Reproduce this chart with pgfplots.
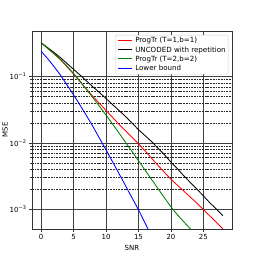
\documentclass[border=0pt]{standalone}
\usepackage{fontspec}
\setmainfont{DejaVu Sans}
\usepackage{pgfplots}
\pgfplotsset{compat=1.18}
\definecolor{mplgreen}{HTML}{008000}
\definecolor{legframe}{HTML}{CCCCCC}
\newcommand{\legline}[1]{\textcolor{#1}{\rule[2.3pt]{14pt}{0.85pt}}\hspace{3.5pt}}
\begin{document}
\fontsize{7}{8.5}\selectfont
\begin{tikzpicture}
\useasboundingbox (-32pt,-29pt) rectangle (226pt,229pt);
\begin{axis}[
  at={(0pt,0pt)}, anchor=south west,
  scale only axis, width=200pt, height=198pt,
  ymode=log,
  xmin=-1.4, xmax=29.4, ymin=5e-4, ymax=0.49,
  xtick={0,5,10,15,20,25},
  ytick={0.001,0.01,0.1},
  yticklabels={10\textsuperscript{−3},10\textsuperscript{−2},10\textsuperscript{−1}},
  /pgf/number format/assume math mode=true,
  tick label style={font=\fontsize{7}{8.5}\selectfont},
  label style={font=\fontsize{7}{8.5}\selectfont},
  xlabel={SNR}, ylabel={MSE},
  xlabel style={at={(axis description cs:0.5,-0.096)}, anchor=center},
  ylabel style={at={(axis description cs:-0.135,0.5)}, anchor=center},
  tick align=outside,
  major tick length=3pt, minor tick length=1.8pt,
  xtick pos=bottom, ytick pos=left,
  axis line style={black!80, line width=0.5pt},
  every tick/.style={black!80, line width=0.5pt},
  xmajorgrids, ymajorgrids, yminorgrids,
  major grid style={solid, black!75, line width=0.6pt},
  minor grid style={black!85, line width=0.45pt, dash pattern=on 1.8pt off 0.9pt},
  legend cell align=left,
  legend image code/.code={},
  legend style={at={(0.982,0.98)}, anchor=north east, draw=legframe,
    rounded corners=1.5pt, fill=white, text=black,
    font=\fontsize{7.1}{8.5}\selectfont, inner xsep=2.5pt, inner ysep=1.5pt,
    row sep=1.3pt, column sep=0pt,
    nodes={inner xsep=0pt, inner ysep=0.8pt}},
]
\addplot[color=red, line width=0.85pt] coordinates {
(0,0.326) (1,0.269) (2,0.221) (3,0.180) (4,0.141) (5,0.110) (6,0.0841)
(7,0.0646) (8,0.0501) (9,0.0394) (10,0.0309) (11,0.0243) (12,0.0191)
(13,0.0153) (14,0.0122) (15,0.00966) (16,0.00759) (17,0.00589) (18,0.00457)
(19,0.00359) (20,0.00282) (21,0.00229) (22,0.00186) (23,0.00151) (24,0.00123)
(25,0.000977) (26,0.000785) (27,0.000631) (28,0.000501)};
\addlegendentry{\legline{red}ProgTr (T=1,b=1)}
\addplot[color=black, line width=0.85pt] coordinates {
(0,0.326) (1,0.275) (2,0.232) (3,0.193) (4,0.158) (5,0.129) (6,0.106)
(7,0.0861) (8,0.0700) (9,0.0575) (10,0.0468) (11,0.0380) (12,0.0309)
(13,0.0251) (14,0.0200) (15,0.0158) (16,0.0129) (17,0.0105) (18,0.00832)
(19,0.00661) (20,0.00513) (21,0.00407) (22,0.00316) (23,0.00251) (24,0.00200)
(25,0.00158) (26,0.00124) (27,0.00100) (28,0.000794)};
\addlegendentry{\legline{black}UNCODED with repetition}
\addplot[color=mplgreen, line width=0.85pt] coordinates {
(0,0.326) (1,0.270) (2,0.222) (3,0.183) (4,0.144) (5,0.112) (6,0.0858)
(7,0.0638) (8,0.0479) (9,0.0355) (10,0.0263) (11,0.0193) (12,0.0141)
(13,0.0102) (14,0.00741) (15,0.00537) (16,0.00389) (17,0.00282) (18,0.00204)
(19,0.00148) (20,0.00108) (21,0.000818) (22,0.000638) (23,0.000501) (23.1,0.000490)};
\addlegendentry{\legline{mplgreen}ProgTr (T=2,b=2)}
\addplot[color=blue, line width=0.85pt] coordinates {
(0,0.243) (1,0.188) (2,0.142) (3,0.105) (4,0.0750) (5,0.0530) (6,0.0372)
(7,0.0257) (8,0.0176) (9,0.0117) (10,0.00783) (11,0.00519) (12,0.00343)
(13,0.00226) (14,0.00148) (15,0.000977) (16,0.000620) (17,0.000390)};
\addlegendentry{\legline{blue}Lower bound}
\end{axis}
\end{tikzpicture}
\end{document}
